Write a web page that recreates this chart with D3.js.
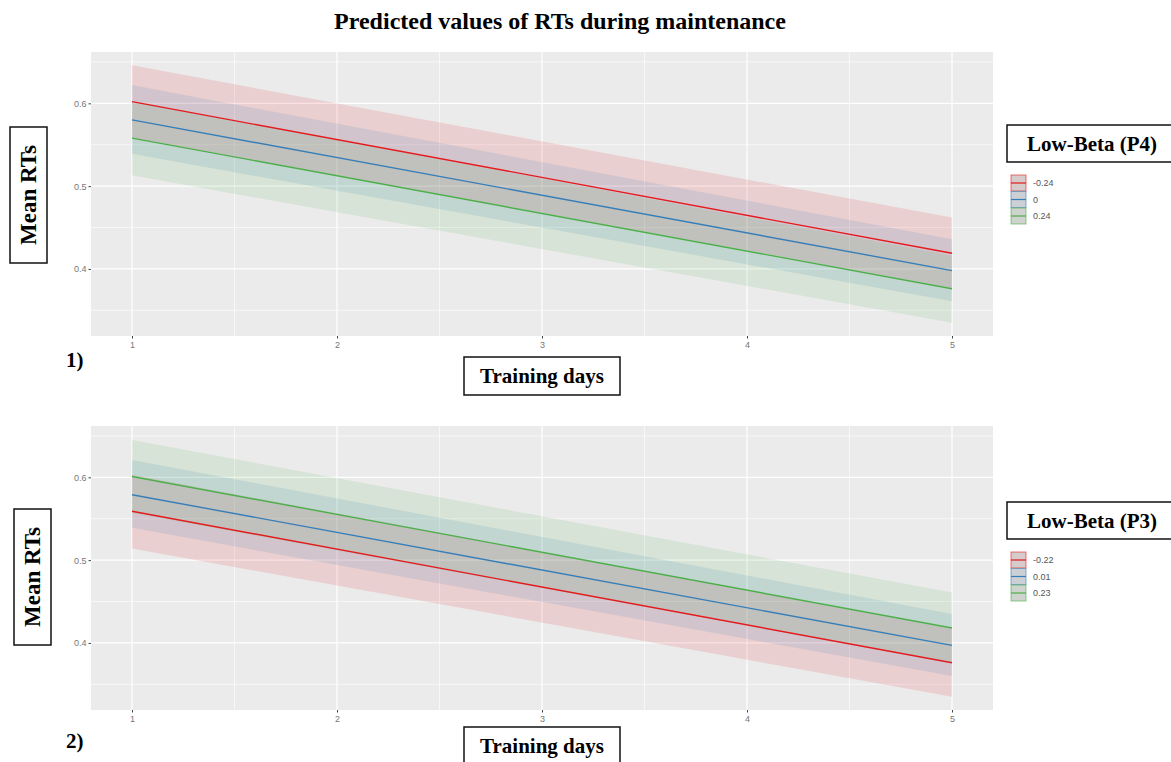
<!DOCTYPE html>
<html>
<head>
<meta charset="utf-8">
<script src="https://d3js.org/d3.v7.min.js"></script>
<style>
  body { margin: 0; background: #fff; }
  svg { display: block; }
</style>
</head>
<body>
<div id="chart"></div>
<script>
// predicted RTs at first and last training day (straight lines from the model)
var days = [1, 5];
var xTicks = [1, 2, 3, 4, 5];
var yTicks = [0.4, 0.5, 0.6];
var colors = ["#E41A1C", "#377EB8", "#4DAF4A"];

// panel 1 : Low-Beta (P4)
var p4Levels = ["-0.24", "0", "0.24"];
var p4Fit = [[0.602, 0.419], [0.580, 0.398], [0.558, 0.376]];
var p4Low = [[0.558, 0.377], [0.539, 0.361], [0.513, 0.335]];
var p4High = [[0.646, 0.462], [0.622, 0.436], [0.602, 0.416]];

// panel 2 : Low-Beta (P3)
var p3Levels = ["-0.22", "0.01", "0.23"];
var p3Fit = [[0.559, 0.376], [0.579, 0.397], [0.601, 0.418]];
var p3Low = [[0.514, 0.335], [0.539, 0.360], [0.557, 0.376]];
var p3High = [[0.603, 0.417], [0.621, 0.435], [0.645, 0.461]];

const W = 1171, H = 762;
var serif = "'Liberation Serif', 'Times New Roman', serif";
var sans = "'Liberation Sans', Arial, sans-serif";

var svg = d3.select("#chart").append("svg")
  .attr("width", W).attr("height", H);

svg.append("text")
  .attr("x", 560).attr("y", 29)
  .attr("text-anchor", "middle")
  .style("font-family", serif).style("font-weight", "bold").style("font-size", "24px")
  .text("Predicted values of RTs during maintenance");

function boxLabel(x, y, w, h, txt, rotate, size) {
  svg.append("rect").attr("x", x).attr("y", y).attr("width", w).attr("height", h)
    .attr("fill", "#fff").attr("stroke", "#111").attr("stroke-width", 1.5);
  var cx = x + w / 2, cy = y + h / 2;
  svg.append("text")
    .attr("x", cx).attr("y", cy)
    .attr("transform", rotate ? "rotate(-90," + cx + "," + cy + ")" : null)
    .attr("text-anchor", "middle").attr("dominant-baseline", "central")
    .style("font-family", serif).style("font-weight", "bold").style("font-size", size + "px")
    .text(txt);
}

function panel(top, levels, fit, low, high, opts) {
  var left = 91, right = 993, bottom = top + 284;
  var x = d3.scaleLinear().domain([0.8, 5.2]).range([left, right]);
  var y = d3.scaleLinear().domain([0.319, 0.662]).range([bottom, top]);
  var g = svg.append("g");

  g.append("rect").attr("x", left).attr("y", top)
    .attr("width", right - left).attr("height", bottom - top).attr("fill", "#EBEBEB");

  // minor grid
  [0.35, 0.45, 0.55, 0.65].forEach(function (v) {
    g.append("line").attr("x1", left).attr("x2", right).attr("y1", y(v)).attr("y2", y(v))
      .attr("stroke", "#fff").attr("stroke-width", 0.6);
  });
  [1.5, 2.5, 3.5, 4.5].forEach(function (v) {
    g.append("line").attr("y1", top).attr("y2", bottom).attr("x1", x(v)).attr("x2", x(v))
      .attr("stroke", "#fff").attr("stroke-width", 0.6);
  });
  // major grid
  yTicks.forEach(function (v) {
    g.append("line").attr("x1", left).attr("x2", right).attr("y1", y(v)).attr("y2", y(v))
      .attr("stroke", "#fff").attr("stroke-width", 1.2);
  });
  xTicks.forEach(function (v) {
    g.append("line").attr("y1", top).attr("y2", bottom).attr("x1", x(v)).attr("x2", x(v))
      .attr("stroke", "#fff").attr("stroke-width", 1.2);
  });

  // ribbons
  var area = d3.area()
    .x(function (d) { return x(d.day); })
    .y0(function (d) { return y(d.lo); })
    .y1(function (d) { return y(d.hi); });
  var line = d3.line()
    .x(function (d) { return x(d.day); })
    .y(function (d) { return y(d.fit); });

  levels.forEach(function (lev, i) {
    var pts = days.map(function (dd, j) {
      return { day: dd, fit: fit[i][j], lo: low[i][j], hi: high[i][j] };
    });
    g.append("path").datum(pts).attr("d", area)
      .attr("fill", colors[i]).attr("fill-opacity", 0.13);
  });
  levels.forEach(function (lev, i) {
    var pts = days.map(function (dd, j) {
      return { day: dd, fit: fit[i][j] };
    });
    g.append("path").datum(pts).attr("d", line)
      .attr("fill", "none").attr("stroke", colors[i]).attr("stroke-width", 1.4);
  });

  // axes
  var ya = g.append("g").attr("transform", "translate(" + left + ",0)")
    .call(d3.axisLeft(y).tickValues(yTicks).tickSize(2.5).tickPadding(2).tickFormat(d3.format(".1f")));
  var xa = g.append("g").attr("transform", "translate(0," + bottom + ")")
    .call(d3.axisBottom(x).tickValues(xTicks).tickSize(2.5).tickPadding(3).tickFormat(d3.format("d")));
  [ya, xa].forEach(function (a) {
    a.select(".domain").remove();
    a.selectAll(".tick line").attr("stroke", "#444");
    a.selectAll("text").attr("fill", "#777").style("font-family", sans).style("font-size", "9px");
  });

  // legend
  boxLabel(1007, opts.legendTop, 170, 37, opts.legendTitle, false, 21);
  levels.forEach(function (lev, i) {
    var ky = opts.legendTop + 50 + i * 16.5;
    svg.append("rect").attr("x", 1011).attr("y", ky).attr("width", 15).attr("height", 16)
      .attr("fill", "#D6D6D6").attr("stroke", colors[i]).attr("stroke-opacity", 0.6).attr("stroke-width", 1);
    svg.append("rect").attr("x", 1011).attr("y", ky).attr("width", 15).attr("height", 16)
      .attr("fill", colors[i]).attr("fill-opacity", 0.06);
    svg.append("line").attr("x1", 1011).attr("x2", 1026).attr("y1", ky + 8).attr("y2", ky + 8)
      .attr("stroke", colors[i]).attr("stroke-width", 1.2);
    svg.append("text").attr("x", 1033).attr("y", ky + 8)
      .attr("dominant-baseline", "central")
      .attr("fill", "#555").style("font-family", sans).style("font-size", "9px")
      .text(lev);
  });

  boxLabel(opts.yBoxX, opts.yBoxY, 37, 136, "Mean RTs", true, 23);
  boxLabel(464, opts.xBoxY, 156, 38, "Training days", false, 21);
  svg.append("text").attr("x", 66).attr("y", opts.numY)
    .style("font-family", serif).style("font-weight", "bold").style("font-size", "21px")
    .text(opts.num);
}

panel(52, p4Levels, p4Fit, p4Low, p4High,
  { legendTop: 125, legendTitle: "Low-Beta (P4)", yBoxX: 10, yBoxY: 127, xBoxY: 357, numY: 367, num: "1)" });
panel(426, p3Levels, p3Fit, p3Low, p3High,
  { legendTop: 502, legendTitle: "Low-Beta (P3)", yBoxX: 14, yBoxY: 509, xBoxY: 727, numY: 748, num: "2)" });
</script>
</body>
</html>
